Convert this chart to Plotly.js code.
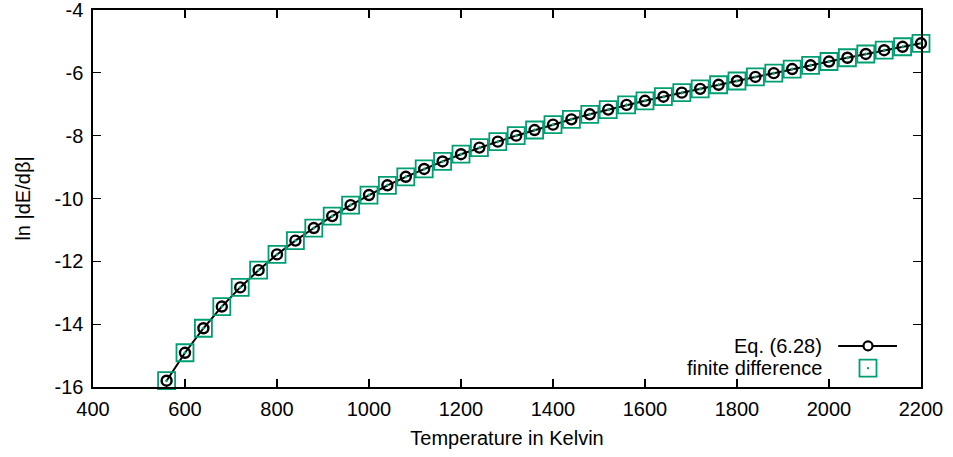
<!DOCTYPE html>
<html>
<head>
<meta charset="utf-8">
<script src="https://cdn.plot.ly/plotly-3.0.1.min.js"></script>
<style>
  html, body { margin: 0; padding: 0; background: #fff; }
  #chart { width: 953px; height: 457px; }
</style>
</head>
<body>
<div id="chart"></div>
<script>
// Temperatures (Kelvin)
var temperature = [560, 600, 640, 680, 720, 760, 800, 840, 880, 920, 960, 1000,
  1040, 1080, 1120, 1160, 1200, 1240, 1280, 1320, 1360, 1400, 1440, 1480, 1520,
  1560, 1600, 1640, 1680, 1720, 1760, 1800, 1840, 1880, 1920, 1960, 2000, 2040,
  2080, 2120, 2160, 2200];

// ln|dE/dβ| from Eq. (6.28)
var eqValues = [-15.80, -14.91, -14.13, -13.44, -12.83, -12.28, -11.78, -11.34,
  -10.94, -10.56, -10.21, -9.89, -9.58, -9.31, -9.06, -8.82, -8.59, -8.38, -8.19,
  -8.00, -7.82, -7.65, -7.48, -7.32, -7.17, -7.02, -6.89, -6.76, -6.63, -6.51,
  -6.38, -6.26, -6.13, -6.01, -5.88, -5.76, -5.64, -5.52, -5.40, -5.28, -5.17, -5.06];

// ln|dE/dβ| from finite difference
var fdValues = [-15.80, -14.91, -14.13, -13.44, -12.83, -12.28, -11.78, -11.34,
  -10.94, -10.56, -10.21, -9.89, -9.58, -9.31, -9.06, -8.82, -8.59, -8.38, -8.19,
  -8.00, -7.82, -7.65, -7.48, -7.32, -7.17, -7.02, -6.89, -6.76, -6.63, -6.51,
  -6.38, -6.26, -6.13, -6.01, -5.88, -5.76, -5.64, -5.52, -5.40, -5.28, -5.17, -5.06];

// Tick labels
var xTickVals = [400, 600, 800, 1000, 1200, 1400, 1600, 1800, 2000, 2200];
var xTickText = ["400", "600", "800", "1000", "1200", "1400", "1600", "1800", "2000", "2200"];
var yTickVals = [-16, -14, -12, -10, -8, -6, -4];
var yTickText = ["-16", "-14", "-12", "-10", "-8", "-6", "-4"];

var seriesNames = ["Eq. (6.28)", "finite difference"];

var GREEN = "#009e73";
var FONT = "Liberation Sans, Arial, Helvetica, sans-serif";
var FS = 20;

var traces = [
  {
    x: temperature, y: eqValues, type: "scatter", mode: "lines+markers",
    name: seriesNames[0],
    line: { color: "#000000", width: 2 },
    marker: { symbol: "circle-open", size: 10, color: "#000000", line: { width: 2.4, color: "#000000" } },
    showlegend: false, cliponaxis: false
  },
  {
    x: temperature, y: fdValues, type: "scatter", mode: "markers",
    name: seriesNames[1],
    marker: { symbol: "square-open-dot", size: 17, color: GREEN, line: { width: 1.8, color: GREEN } },
    showlegend: false, cliponaxis: false
  }
];

// Legend placement (paper coords inside the plot area, bottom right)
var legTextX = 0.883, legSymX0 = 0.900, legSymX1 = 0.971, legSymXC = 0.936;
var legRow1 = 0.109, legRow2 = 0.050;

var layout = {
  width: 953, height: 457,
  margin: { l: 93, r: 32, t: 10, b: 70 },
  paper_bgcolor: "#ffffff", plot_bgcolor: "#ffffff",
  font: { family: FONT, size: FS, color: "#000000" },
  showlegend: false,
  xaxis: {
    range: [400, 2200], tickmode: "array", tickvals: xTickVals, ticktext: xTickText,
    ticks: "inside", ticklen: 8, tickwidth: 1.3, tickcolor: "#000",
    showline: true, linecolor: "#000", linewidth: 1.6, mirror: "ticks",
    showgrid: false, zeroline: false, ticklabelstandoff: 3, ticklabeloverflow: "allow",
    tickfont: { family: FONT, size: FS },
    title: { text: "Temperature in Kelvin", font: { family: FONT, size: FS }, standoff: 12 }
  },
  yaxis: {
    range: [-16, -4], tickmode: "array", tickvals: yTickVals, ticktext: yTickText,
    ticks: "inside", ticklen: 8, tickwidth: 1.3, tickcolor: "#000",
    showline: true, linecolor: "#000", linewidth: 1.6, mirror: "ticks",
    showgrid: false, zeroline: false, ticklabelstandoff: 4, ticklabeloverflow: "allow",
    tickfont: { family: FONT, size: FS },
    title: { text: "ln |dE/dβ|", font: { family: FONT, size: FS }, standoff: 18 }
  },
  annotations: [
    { xref: "paper", yref: "paper", x: legTextX, y: legRow1, xanchor: "right", yanchor: "middle",
      text: seriesNames[0], showarrow: false, font: { family: FONT, size: FS, color: "#000" } },
    { xref: "paper", yref: "paper", x: legTextX, y: legRow2, xanchor: "right", yanchor: "middle",
      text: seriesNames[1], showarrow: false, font: { family: FONT, size: FS, color: "#000" } }
  ],
  shapes: [
    { type: "line", xref: "paper", yref: "paper", x0: legSymX0, x1: legSymX1, y0: legRow1, y1: legRow1,
      line: { color: "#000", width: 2 } },
    { type: "circle", xref: "paper", yref: "paper", xsizemode: "pixel", ysizemode: "pixel",
      xanchor: legSymXC, yanchor: legRow1, x0: -4.5, x1: 4.5, y0: -4.5, y1: 4.5,
      line: { color: "#000", width: 2.2 }, fillcolor: "#ffffff" },
    { type: "rect", xref: "paper", yref: "paper", xsizemode: "pixel", ysizemode: "pixel",
      xanchor: legSymXC, yanchor: legRow2, x0: -8.5, x1: 8.5, y0: -8.5, y1: 8.5,
      line: { color: GREEN, width: 1.8 }, fillcolor: "rgba(0,0,0,0)" },
    { type: "rect", xref: "paper", yref: "paper", xsizemode: "pixel", ysizemode: "pixel",
      xanchor: legSymXC, yanchor: legRow2, x0: -1, x1: 1, y0: -1, y1: 1,
      line: { width: 0 }, fillcolor: GREEN }
  ]
};

Plotly.newPlot("chart", traces, layout, { displayModeBar: false, staticPlot: true });
</script>
</body>
</html>
